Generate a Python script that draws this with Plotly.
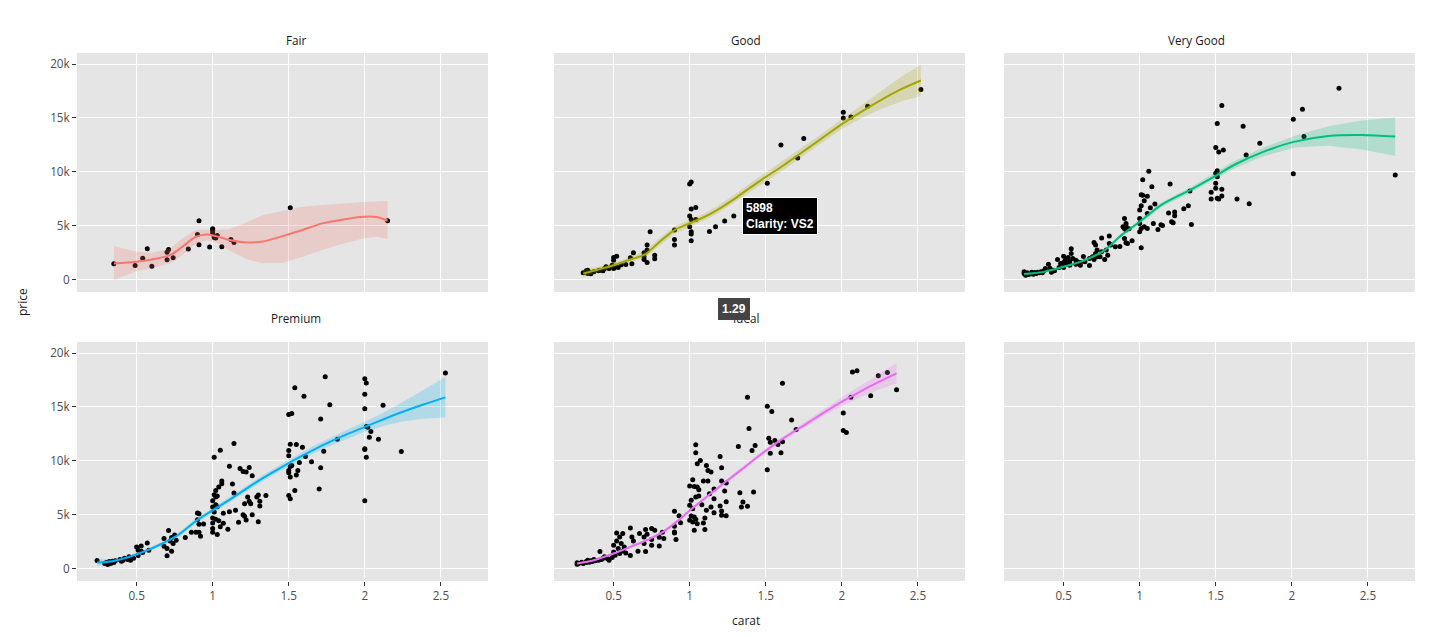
import plotly.graph_objects as go

# ---- data (carat vs price, faceted by cut) ----
cuts = ["Fair", "Good", "Very Good", "Premium", "Ideal"]
cut_colors = ["#F8766D", "#A3A500", "#00BF7D", "#00B0F6", "#E76BF3"]
ribbon_colors = ["rgba(248,118,109,0.22)", "rgba(163,165,0,0.22)", "rgba(0,191,125,0.22)",
                 "rgba(0,176,246,0.22)", "rgba(231,107,243,0.22)"]

fair_carat = [0.35, 0.49, 0.54, 0.57, 0.60, 0.70, 0.71, 0.70, 0.74, 0.84, 0.90, 0.91, 0.91,
              0.98, 1.00, 1.00, 1.00, 1.00, 1.01, 1.02, 1.03, 1.06, 1.12, 1.14, 1.51, 2.15]
fair_price = [1457, 1302, 1984, 2852, 1240, 2542, 2790, 1829, 2015, 2821, 4185, 5456, 3224,
              3007, 4712, 4588, 4402, 4216, 3906, 3844, 4092, 3038, 3720, 3441, 6665, 5456]

good_carat = [0.30, 0.32, 0.33, 0.33, 0.34, 0.35, 0.37, 0.40, 0.41, 0.43, 0.44, 0.45, 0.47,
              0.49, 0.50, 0.50, 0.50, 0.51, 0.52, 0.53, 0.55, 0.58, 0.61, 0.62, 0.63, 0.70,
              0.70, 0.70, 0.72, 0.72, 0.72, 0.74, 0.77, 0.77, 0.90, 0.90, 0.90, 1.00, 1.01,
              1.01, 1.00, 1.01, 1.00, 1.01, 1.01, 1.01, 1.04, 1.04, 1.13, 1.17, 1.23, 1.29,
              1.51, 1.60, 1.71, 1.75, 2.01, 2.01, 2.06, 2.17, 2.52]
good_price = [620, 806, 558, 868, 682, 527, 713, 806, 868, 806, 992, 1178, 1023,
              1333, 1798, 2046, 1023, 1240, 2170, 1116, 1364, 1395, 2015, 1457, 2480, 2480,
              2108, 1860, 2728, 3193, 1581, 4433, 2263, 1922, 4588, 3720, 3193, 8866, 9052,
              6541, 5890, 5580, 4898, 4433, 4216, 3596, 6696, 5580, 4464, 4898, 5425, 5898,
              8928, 12493, 11284, 13082, 15531, 15004, 15097, 16089, 17639]

vgood_carat = [2.31, 2.07, 2.01, 2.08, 1.54, 1.51, 1.68, 1.79, 1.70, 1.50, 1.52, 1.55, 2.01,
               2.68, 1.51, 1.50, 1.51, 1.50, 1.50, 1.54, 1.47, 1.47, 1.51, 1.54, 1.52, 1.64,
               1.72, 1.33, 1.34, 1.29, 1.32, 1.23, 1.23, 1.22, 1.21, 1.19, 1.20, 1.08, 1.06,
               1.02, 1.01, 1.02, 1.05, 1.03, 1.10, 1.01, 1.07, 1.05, 1.00, 1.09, 1.12, 1.14,
               1.15, 1.00, 1.00, 1.01, 1.03, 1.05, 1.00, 1.01, 0.90, 0.91, 0.90, 0.91, 0.93,
               0.90, 0.91, 0.92, 0.95, 0.87, 0.80, 0.80, 0.75, 0.81, 0.70, 0.71, 0.72, 0.75,
               0.78, 0.79, 0.77, 0.71, 0.69, 0.67, 0.70, 0.72, 0.74, 0.63, 0.61, 0.58, 0.55,
               0.55, 0.56, 0.53, 0.50, 0.51, 0.50, 0.52, 0.54, 0.46, 0.48, 0.50, 0.58, 0.61,
               0.40, 0.38, 0.37, 0.41, 0.43, 0.35, 0.33, 0.31, 0.29, 0.26, 0.24, 0.24, 0.25,
               0.27, 0.30, 0.32, 0.34, 0.36, 0.42, 0.44, 0.47, 0.52, 0.54, 0.59, 0.64, 0.67,
               0.84, 0.89, 0.91]
vgood_price = [17763, 15810, 14880, 13268, 16151, 14477, 14229, 12648, 11563, 12245, 11842, 12028, 9827,
               9703, 10106, 9858, 9548, 8928, 8463, 8370, 8091, 7471, 7533, 7750, 7471, 7471,
               7037, 8215, 5115, 6572, 6851, 6262, 5921, 5270, 5363, 6169, 8866, 8618, 10044,
               9269, 7874, 7812, 7719, 7316, 7006, 6851, 6665, 6138, 6448, 5208, 4650, 5084,
               5022, 5673, 5208, 4743, 4898, 4743, 4433, 2945, 5673, 4991, 4743, 4588, 4712,
               3813, 3410, 3348, 3596, 3069, 4030, 3348, 3844, 3193, 3441, 3193, 2728, 2573,
               2728, 2263, 1860, 2418, 2108, 1302, 1860, 2108, 2108, 2139, 1581, 1798, 2852,
               2418, 1953, 2046, 2170, 1798, 1581, 1550, 1333, 1860, 1488, 1116, 1426, 1333,
               1426, 1023, 806, 1054, 868, 713, 682, 651, 682, 620, 558, 713, 403,
               465, 496, 558, 620, 620, 682, 806, 1116, 1488, 1643, 1643, 1643, 1953,
               3038, 4898, 5208]

prem_carat = [2.53, 1.74, 1.54, 1.60, 2.00, 2.01, 2.00, 2.00, 2.12, 1.77, 1.71, 1.50, 1.52,
              2.01, 2.02, 2.04, 2.03, 2.09, 1.82, 2.00, 2.00, 2.01, 2.24, 2.00, 1.73, 1.71,
              1.70, 1.65, 1.61, 1.59, 1.55, 1.51, 1.50, 1.50, 1.57, 1.52, 1.51, 1.50, 1.50,
              1.51, 1.56, 1.55, 1.54, 1.50, 1.51, 1.01, 1.05, 1.14, 1.11, 1.13, 1.14, 1.18,
              1.20, 1.22, 1.24, 1.26, 1.23, 1.24, 1.29, 1.31, 1.35, 1.30, 1.21, 1.25, 1.31,
              1.26, 1.20, 1.21, 1.22, 1.30, 1.17, 1.15, 1.06, 1.06, 1.04, 1.02, 1.01, 1.02,
              1.03, 1.00, 1.02, 1.00, 1.03, 1.01, 1.07, 1.11, 1.00, 1.02, 1.04, 1.07, 1.05,
              1.00, 1.00, 1.00, 1.03, 1.10, 0.90, 0.91, 0.90, 0.91, 0.94, 0.89, 0.91, 0.92,
              0.86, 0.82, 0.75, 0.73, 0.71, 0.68, 0.68, 0.70, 0.73, 0.70, 0.72, 0.74, 0.76,
              0.57, 0.53, 0.50, 0.51, 0.53, 0.54, 0.51, 0.58, 0.48, 0.45, 0.44, 0.41, 0.39,
              0.36, 0.34, 0.32, 0.30, 0.31, 0.33, 0.29, 0.24, 0.35, 0.40, 0.42, 0.46]
prem_price = [18146, 17806, 16788, 15986, 17621, 17220, 16170, 14844, 15152, 15214, 13887, 14288, 14381,
              13177, 13115, 12714, 12190, 12004, 12004, 11110, 11048, 10338, 10863, 6295, 10894, 9351,
              7376, 9906, 10400, 11264, 11511, 11542, 10955, 10461, 9844, 9567, 9474, 9104, 8888,
              8486, 9104, 8672, 7252, 6789, 6481, 10338, 10986, 11603, 9505, 7838, 7005, 9289,
              9011, 8950, 9382, 8610, 6635, 6234, 6635, 6234, 6789, 6820, 6018, 6018, 5802,
              4999, 4999, 4845, 4505, 4351, 4289, 5401, 8116, 7869, 7561, 7252, 6851, 6635,
              6727, 6295, 5925, 5709, 5740, 5246, 5123, 5277, 4691, 4567, 4444, 4197, 3888,
              4228, 3703, 3364, 3148, 3641, 5154, 5092, 4536, 4104, 4135, 3364, 3364, 2993,
              3364, 2870, 3117, 2870, 3518, 2777, 2068, 1852, 1605, 1173, 2561, 2314, 2623,
              2376, 2098, 2006, 1697, 1605, 1481, 1204, 1697, 957, 1080, 833, 772, 833,
              710, 679, 648, 555, 370, 463, 463, 741, 555, 679, 957, 772]

ideal_carat = [2.10, 2.07, 2.30, 2.24, 1.61, 2.36, 2.19, 2.06, 1.38, 1.51, 1.54, 2.01, 1.67,
               1.39, 1.70, 2.01, 2.03, 1.52, 1.53, 1.56, 1.61, 1.58, 1.43, 1.32, 1.41, 1.04,
               1.04, 1.53, 1.60, 1.20, 1.07, 1.05, 1.11, 1.21, 1.12, 1.14, 1.51, 1.02, 1.00,
               1.03, 1.05, 1.09, 1.12, 1.21, 1.24, 1.16, 1.06, 1.13, 1.16, 1.23, 1.06, 1.04,
               1.33, 1.42, 1.35, 1.34, 1.38, 1.24, 1.01, 1.00, 1.02, 1.08, 1.14, 1.20, 1.11,
               1.16, 1.21, 1.21, 1.24, 1.10, 1.01, 1.03, 1.00, 1.02, 1.04, 1.05, 1.03, 1.10,
               1.09, 0.90, 0.93, 0.94, 0.90, 0.90, 0.91, 0.90, 0.82, 0.80, 0.83, 0.80, 0.77,
               0.75, 0.71, 0.70, 0.72, 0.75, 0.70, 0.75, 0.71, 0.66, 0.67, 0.61, 0.62, 0.63,
               0.61, 0.56, 0.52, 0.54, 0.52, 0.55, 0.57, 0.50, 0.53, 0.50, 0.51, 0.54, 0.56,
               0.58, 0.49, 0.46, 0.44, 0.41, 0.42, 0.40, 0.37, 0.35, 0.33, 0.32, 0.29, 0.26,
               0.26, 0.27, 0.30, 0.32, 0.34, 0.36, 0.38, 0.43, 0.47]
ideal_price = [18362, 18238, 18207, 17899, 17189, 16603, 16047, 15893, 15893, 15060, 14566, 14443, 13794,
               12992, 12900, 12807, 12622, 12097, 11727, 11881, 11758, 11511, 11418, 11326, 10955, 11480,
               10739, 10708, 10739, 10400, 10030, 9721, 9567, 9351, 9104, 8950, 9166, 8240, 7653,
               7622, 7561, 8116, 8116, 8116, 7931, 7376, 7314, 6943, 6481, 7191, 6727, 6635,
               7036, 7098, 6172, 5709, 5771, 6203, 6326, 5863, 5555, 5925, 5709, 5802, 5401,
               5184, 5339, 4937, 4907, 4691, 4876, 4783, 4475, 4320, 4567, 4166, 3549, 3611,
               4228, 5308, 4907, 4259, 3395, 3302, 2685, 3919, 3364, 2901, 2777, 2098, 3549,
               3703, 3611, 2932, 3179, 2685, 2314, 2160, 1574, 1605, 3240, 3765, 2932, 2561,
               1204, 3240, 3302, 2932, 2561, 2314, 2006, 2160, 1852, 1543, 1234, 1389, 1636,
               1450, 1018, 895, 1080, 1574, 833, 772, 833, 710, 772, 648, 586, 525,
               401, 463, 463, 555, 586, 648, 710, 957, 772]

# loess fits and their confidence bands, as drawn
fair_fit_x = [0.35, 0.50, 0.60, 0.72, 0.80, 0.89, 0.96, 1.02, 1.11, 1.22, 1.33, 1.46, 1.59, 1.72, 1.86, 1.99, 2.08, 2.15]
fair_fit_y = [1490, 1640, 1860, 2260, 3040, 3970, 4190, 4030, 3660, 3440, 3530, 4030, 4590, 5210, 5580, 5830, 5800, 5460]
fair_fit_hi = [3100, 2570, 2480, 2880, 3810, 4590, 4650, 4600, 4700, 5300, 6000, 6400, 6760, 6910, 7070, 7190, 7250, 7290]
fair_fit_lo = [-60, 800, 1050, 1490, 2260, 3350, 3650, 3450, 2700, 1900, 1500, 1560, 2100, 2730, 3350, 3810, 3970, 3750]

good_fit_x = [0.30, 0.40, 0.50, 0.61, 0.71, 0.79, 0.90, 1.01, 1.10, 1.18, 1.29, 1.40, 1.51, 1.62, 1.73, 1.86, 2.00, 2.13, 2.26, 2.39, 2.52]
good_fit_y = [560, 930, 1330, 1860, 2360, 3350, 4590, 5270, 5830, 6450, 7440, 8560, 9610, 10630, 11720, 13020, 14420, 15590, 16680, 17670, 18480]
good_fit_hi = [940, 1180, 1530, 2110, 2660, 3700, 4940, 5590, 6160, 6800, 7820, 8960, 10030, 11060, 12140, 13440, 14870, 16190, 17530, 18820, 19930]
good_fit_lo = [180, 680, 1130, 1610, 2060, 3000, 4240, 4950, 5500, 6100, 7060, 8160, 9190, 10200, 11300, 12600, 13970, 14990, 15830, 16520, 17030]

vgood_fit_x = [0.24, 0.37, 0.50, 0.64, 0.77, 0.88, 1.00, 1.14, 1.34, 1.49, 1.62, 1.80, 2.02, 2.24, 2.46, 2.68]
vgood_fit_y = [500, 710, 1180, 1800, 2730, 4120, 5360, 6910, 8370, 9550, 10630, 11780, 12800, 13330, 13420, 13270]
vgood_fit_hi = [650, 810, 1280, 1920, 2880, 4300, 5560, 7130, 8620, 9850, 10980, 12180, 13350, 14230, 14770, 15070]
vgood_fit_lo = [350, 610, 1080, 1680, 2580, 3940, 5160, 6690, 8120, 9250, 10280, 11380, 12250, 12430, 12070, 11470]

prem_fit_x = [0.24, 0.34, 0.45, 0.56, 0.67, 0.78, 0.89, 1.00, 1.11, 1.22, 1.33, 1.44, 1.55, 1.66, 1.77, 1.88, 2.00, 2.14, 2.25, 2.38, 2.53]
prem_fit_y = [560, 680, 1080, 1640, 2320, 3180, 4410, 5400, 6380, 7400, 8400, 9300, 10180, 11000, 11750, 12450, 13150, 13950, 14550, 15200, 15890]
prem_fit_hi = [910, 830, 1230, 1790, 2500, 3380, 4630, 5620, 6610, 7650, 8680, 9600, 10500, 11350, 12130, 12870, 13620, 14600, 15450, 16500, 17770]
prem_fit_lo = [210, 530, 930, 1490, 2140, 2980, 4190, 5180, 6150, 7150, 8120, 9000, 9860, 10650, 11370, 12030, 12680, 13300, 13650, 13900, 14010]

ideal_fit_x = [0.26, 0.37, 0.50, 0.61, 0.72, 0.83, 0.92, 1.01, 1.12, 1.23, 1.34, 1.45, 1.56, 1.67, 1.78, 1.89, 2.01, 2.13, 2.24, 2.36]
ideal_fit_y = [460, 770, 1390, 2010, 2640, 3450, 4400, 5500, 6750, 7980, 9180, 10400, 11550, 12580, 13550, 14550, 15560, 16500, 17300, 18120]
ideal_fit_hi = [610, 850, 1470, 2110, 2760, 3580, 4550, 5660, 6910, 8150, 9360, 10590, 11750, 12800, 13800, 14850, 15960, 17050, 18000, 19070]
ideal_fit_lo = [310, 690, 1310, 1910, 2520, 3320, 4250, 5340, 6590, 7810, 9000, 10210, 11350, 12360, 13300, 14250, 15160, 15950, 16600, 17170]

x_ticks = [0.5, 1, 1.5, 2, 2.5]
x_tick_text = ["0.5", "1", "1.5", "2", "2.5"]
y_ticks = [0, 5000, 10000, 15000, 20000]
y_tick_text = ["0", "5k", "10k", "15k", "20k"]

points = [(fair_carat, fair_price), (good_carat, good_price), (vgood_carat, vgood_price),
          (prem_carat, prem_price), (ideal_carat, ideal_price)]
fits = [(fair_fit_x, fair_fit_y, fair_fit_lo, fair_fit_hi),
        (good_fit_x, good_fit_y, good_fit_lo, good_fit_hi),
        (vgood_fit_x, vgood_fit_y, vgood_fit_lo, vgood_fit_hi),
        (prem_fit_x, prem_fit_y, prem_fit_lo, prem_fit_hi),
        (ideal_fit_x, ideal_fit_y, ideal_fit_lo, ideal_fit_hi)]

# ---- layout geometry: screen pixels; the page body adds an 8px margin ----
OFF = 8
PW, PH = 1431 - 2 * OFF, 637 - 2 * OFF


def fx_(px):
    return (px - OFF) / PW


def fy_(py):
    return 1 - (py - OFF) / PH


col_px = [(77, 488), (554, 965), (1004, 1415)]
row_px = [(53, 292), (342, 581)]
title_col_px = [296, 746, 1196]   # strip labels sit on an even 450px pitch
title_row_px = [40, 318]
X_RANGE = [0.108, 2.81]
Y_RANGE = [-1160, 21030]
FONT = "Open Sans, verdana, arial, sans-serif"

fig = go.Figure()

for i, cut in enumerate(cuts):
    n = i + 1
    xa, ya = ("x" if n == 1 else f"x{n}"), ("y" if n == 1 else f"y{n}")
    px, py = points[i]
    fx, fy, flo, fhi = fits[i]
    fig.add_trace(go.Scatter(x=px, y=py, mode="markers", xaxis=xa, yaxis=ya,
                             marker=dict(color="black", size=5), showlegend=False,
                             hoverinfo="x+y"))
    fig.add_trace(go.Scatter(x=fx + fx[::-1], y=fhi + flo[::-1], mode="lines",
                             xaxis=xa, yaxis=ya, fill="toself", fillcolor=ribbon_colors[i],
                             line=dict(width=0, color="rgba(0,0,0,0)"), showlegend=False,
                             hoverinfo="skip"))
    fig.add_trace(go.Scatter(x=fx, y=fy, mode="lines", xaxis=xa, yaxis=ya,
                             line=dict(color=cut_colors[i], width=2, shape="spline", smoothing=0.8),
                             showlegend=False, hoverinfo="skip"))

# empty sixth panel needs a trace so its axes render
fig.add_trace(go.Scatter(x=[None], y=[None], xaxis="x6", yaxis="y6", showlegend=False))

layout_axes = {}
for n in range(1, 7):
    r, c = (n - 1) // 3, (n - 1) % 3
    x0, x1 = col_px[c]
    y0, y1 = row_px[r]
    left = c == 0
    xkey = "xaxis" if n == 1 else f"xaxis{n}"
    ykey = "yaxis" if n == 1 else f"yaxis{n}"
    ya = "y" if n == 1 else f"y{n}"
    xa = "x" if n == 1 else f"x{n}"
    layout_axes[xkey] = dict(
        domain=[fx_(x0), fx_(x1)], anchor=ya, range=X_RANGE,
        tickvals=x_ticks, ticktext=x_tick_text, showticklabels=(r == 1),
        ticks="outside" if r == 1 else "", ticklen=4, tickcolor="rgba(51,51,51,1)",
        tickfont=dict(size=11.7, color="#4D4D4D"),
        showgrid=True, gridcolor="white", gridwidth=1, zeroline=False, showline=False,
        fixedrange=True)
    layout_axes[ykey] = dict(
        domain=[fy_(y1), fy_(y0)], anchor=xa, range=Y_RANGE,
        tickvals=y_ticks, ticktext=y_tick_text, showticklabels=left,
        ticks="outside" if left else "", ticklen=4, tickcolor="rgba(51,51,51,1)",
        tickfont=dict(size=11.7, color="#4D4D4D"),
        showgrid=True, gridcolor="white", gridwidth=1, zeroline=False, showline=False,
        fixedrange=True)

fig.update_layout(**layout_axes)

shapes = []
for n in range(1, 7):
    r, c = (n - 1) // 3, (n - 1) % 3
    x0, x1 = col_px[c]
    y0, y1 = row_px[r]
    shapes.append(dict(type="rect", xref="paper", yref="paper", layer="below",
                       x0=fx_(x0), x1=fx_(x1), y0=fy_(y1), y1=fy_(y0),
                       fillcolor="#E5E5E5", line=dict(width=0)))

annotations = []
for i, cut in enumerate(cuts):
    r, c = i // 3, i % 3
    annotations.append(dict(text=cut, xref="paper", yref="paper", x=fx_(title_col_px[c]),
                            y=fy_(title_row_px[r]), xanchor="center", yanchor="middle",
                            showarrow=False,
                            font=dict(size=11.7, color="#1A1A1A", family=FONT)))
annotations.append(dict(text="price", xref="paper", yref="paper", x=fx_(22), y=fy_(302),
                        xanchor="center", yanchor="middle", textangle=-90, showarrow=False,
                        font=dict(size=12, color="#1A1A1A", family=FONT)))
annotations.append(dict(text="carat", xref="paper", yref="paper", x=fx_(746), y=fy_(620),
                        xanchor="center", yanchor="middle", showarrow=False,
                        font=dict(size=12, color="#1A1A1A", family=FONT)))

# the hover state captured in the screenshot
annotations.append(dict(text="<b>5898</b><br><b>Clarity: VS2</b>", xref="x2", yref="y2",
                        x=1.29, y=5898, xanchor="left", yanchor="middle", xshift=8,
                        showarrow=False, align="left",
                        bgcolor="black", bordercolor="white", borderwidth=1, borderpad=3,
                        font=dict(size=12, color="white", family="Arial")))
annotations.append(dict(text="<b>1.29</b>", xref="x2", yref="paper", x=1.29, y=fy_(298),
                        xanchor="center", yanchor="top", showarrow=False, bgcolor="#444444",
                        bordercolor="#444444", borderwidth=1, borderpad=3,
                        font=dict(size=12, color="white", family="Arial")))

fig.update_layout(
    shapes=shapes, annotations=annotations,
    paper_bgcolor="white", plot_bgcolor="rgba(0,0,0,0)",
    margin=dict(l=0, r=0, t=0, b=0),
    font=dict(family=FONT, color="#4D4D4D"),
    showlegend=False, hovermode="closest",
)

fig.write_html("out.html")
